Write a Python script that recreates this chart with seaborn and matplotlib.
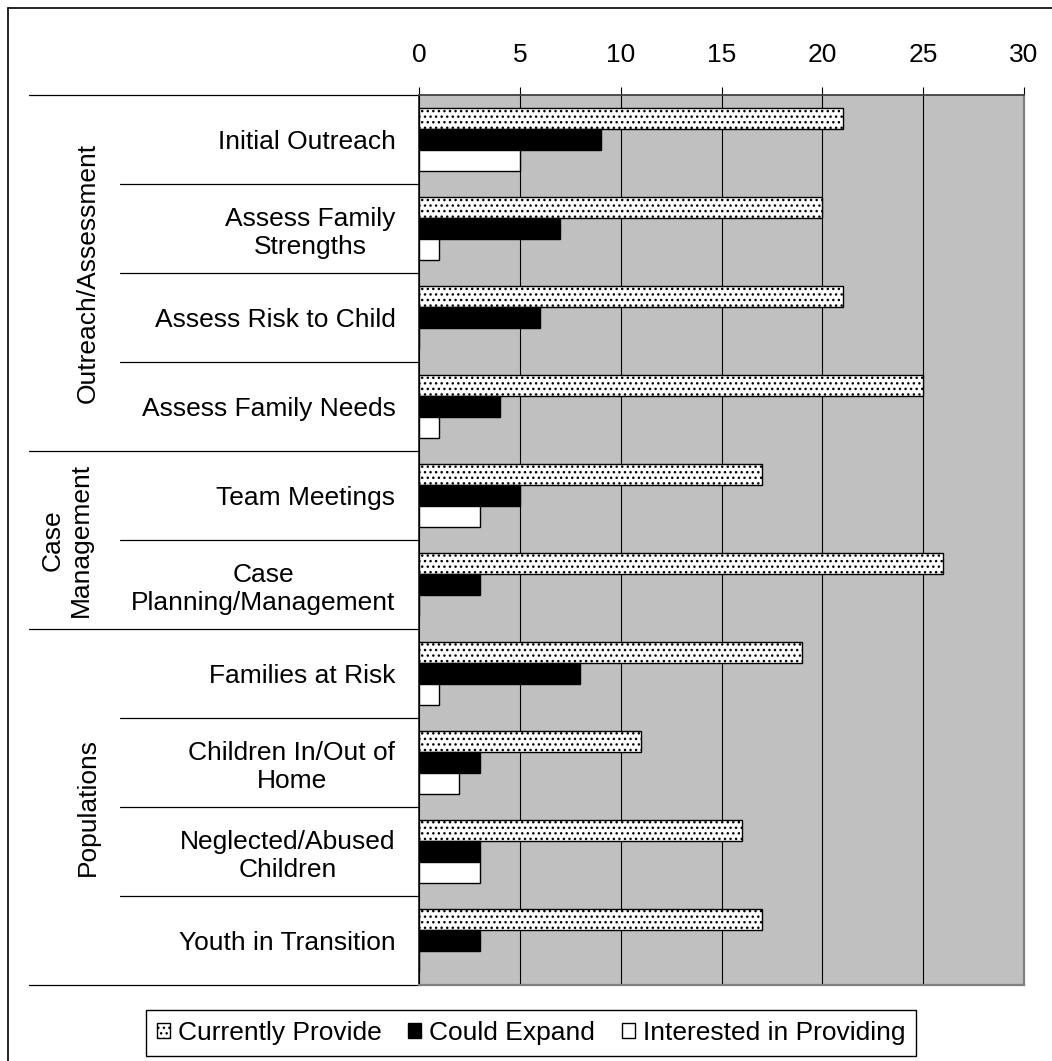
import numpy as np
import pandas as pd
import matplotlib
matplotlib.use("Agg")
import matplotlib.pyplot as plt
import matplotlib.patches as mpatches
from matplotlib.lines import Line2D
import seaborn as sns

# ---- data ----
services = [
    "Initial Outreach",
    "Assess Family\nStrengths",
    "Assess Risk to Child",
    "Assess Family Needs",
    "Team Meetings",
    "Case\nPlanning/Management",
    "Families at Risk",
    "Children In/Out of\nHome",
    "Neglected/Abused\nChildren",
    "Youth in Transition",
]
series = ["Currently Provide", "Could Expand", "Interested in Providing"]
currently_provide = [21, 20, 21, 25, 17, 26, 19, 11, 16, 17]
could_expand = [9, 7, 6, 4, 5, 3, 8, 3, 3, 3]
interested_in_providing = [5, 1, 0, 1, 3, 0, 1, 2, 3, 0]
groups = ["Outreach/Assessment", "Case\nManagement", "Populations"]
group_sizes = [4, 2, 4]
x_ticks = [0, 5, 10, 15, 20, 25, 30]

df = pd.DataFrame({
    "Service": services * 3,
    "Series": np.repeat(series, len(services)),
    "Count": currently_provide + could_expand + interested_in_providing,
})

# ---- style ----
sns.set_theme(style="white", rc={
    "text.color": "black", "xtick.color": "black", "ytick.color": "black",
    "axes.labelcolor": "black", "hatch.linewidth": 1.0,
})
plt.rcParams["font.family"] = ["Liberation Sans", "DejaVu Sans"]
FS = 19

W, H = 1052, 1061
fig = plt.figure(figsize=(W / 100, H / 100), dpi=100)
ax = fig.add_axes([419 / W, 1 - 985 / H, 605 / W, 890 / H])

sns.barplot(
    data=df, x="Count", y="Service", hue="Series",
    order=services, hue_order=series, orient="h",
    palette=["white", "black", "white"], saturation=1,
    edgecolor="black", linewidth=1.0, width=0.7,
    errorbar=None, legend=False, ax=ax,
)
for bar in ax.containers[0]:
    bar.set_hatch("...")

ax.set_xlim(0, 30)
ax.set_ylim(len(services) - 0.5, -0.5)
ax.set_xticks(x_ticks)
ax.xaxis.tick_top()
ax.set_xlabel("")
ax.set_ylabel("")
ax.set_facecolor("#C0C0C0")
ax.grid(axis="x", color="black", linewidth=0.8)
ax.grid(axis="y", visible=False)
ax.set_axisbelow(True)
ax.tick_params(axis="x", top=True, bottom=False, labeltop=True, labelbottom=False,
               length=6, width=0.8, pad=14, labelsize=FS)
ax.tick_params(axis="y", length=0, pad=17, labelsize=FS)
for lbl in ax.get_yticklabels():
    lbl.set_multialignment("center")

ax.spines["left"].set_color("black")
ax.spines["left"].set_linewidth(1.1)
ax.spines["top"].set_color("#404040")
ax.spines["top"].set_linewidth(1.3)
for side in ("right", "bottom"):
    ax.spines[side].set_color("#808080")
    ax.spines[side].set_linewidth(1.6)

# ---- row separators and group labels in the left margin ----
trans = ax.get_yaxis_transform()
axw = 605.0
x_long = (29 - 419) / axw
x_short = (120 - 419) / axw
edges = np.cumsum([0] + group_sizes) - 0.5
for b in np.arange(len(services) + 1) - 0.5:
    x0 = x_long if np.isclose(edges, b).any() else x_short
    ax.add_line(Line2D([x0, 0], [b, b], transform=trans, clip_on=False,
                       color="black", linewidth=0.9))

group_x = [(88 - 419) / axw, (67 - 419) / axw, (88 - 419) / axw]
for name, lo, hi, gx in zip(groups, edges[:-1], edges[1:], group_x):
    ax.text(gx, (lo + hi) / 2, name, transform=trans, rotation=90,
            ha="center", va="center", multialignment="center", fontsize=FS)

# ---- outer frame (left and top edges) ----
fig.add_artist(Line2D([8 / W, 8 / W], [0, 1 - 8 / H], transform=fig.transFigure,
                      color="black", linewidth=1.2))
fig.add_artist(Line2D([8 / W, 1], [1 - 8 / H, 1 - 8 / H], transform=fig.transFigure,
                      color="black", linewidth=1.2))

# ---- legend ----
handles = [
    mpatches.Patch(facecolor="white", edgecolor="black", hatch="...", linewidth=1.0),
    mpatches.Patch(facecolor="black", edgecolor="black", linewidth=1.0),
    mpatches.Patch(facecolor="white", edgecolor="black", linewidth=1.0),
]
leg = fig.legend(handles, series, loc="center",
                 bbox_to_anchor=(531 / W, 1 - 1033 / H), ncol=3,
                 fontsize=FS, frameon=True, fancybox=False, shadow=False,
                 edgecolor="black", framealpha=1,
                 handlelength=0.5, handleheight=0.5, handletextpad=0.3,
                 columnspacing=1.0, borderpad=0.4, borderaxespad=0)
leg.get_frame().set_linewidth(1.0)

fig.savefig("out.png", dpi=100)
